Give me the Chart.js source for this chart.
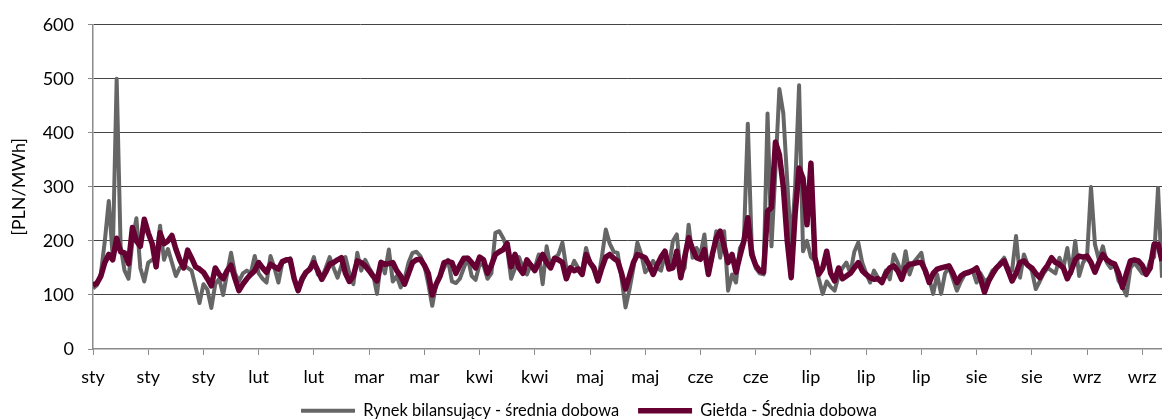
<!DOCTYPE html>
<html>
<head>
<meta charset="utf-8">
<script src="https://cdn.jsdelivr.net/npm/chart.js@4.4.0/dist/chart.umd.min.js"></script>
<style>
  html, body { margin: 0; padding: 0; background: #fff; }
</style>
</head>
<body>
<canvas id="chart" width="1162" height="419"></canvas>
<script>
// one tick every 14 days, starting on 1 Jan
const tickLabels = ['sty', 'sty', 'sty', 'lut', 'lut', 'mar', 'mar', 'kwi', 'kwi', 'maj',
  'maj', 'cze', 'cze', 'lip', 'lip', 'lip', 'sie', 'sie', 'wrz', 'wrz'];

// Rynek bilansujący - średnia dobowa (daily, PLN/MWh)
const rynek = [
  112, 118, 140, 200, 274, 170, 500, 190, 145, 130, 200, 242, 150, 125, 160, 165, 170, 228, 165, 185, 160, 135, 150, 155,
  150, 145, 115, 85, 120, 110, 76, 120, 130, 100, 140, 178, 140, 125, 140, 145, 140, 172, 140, 130, 123, 172, 150, 123, 160,
  163, 168, 130, 108, 125, 140, 150, 170, 138, 132, 150, 170, 150, 132, 155, 170, 140, 120, 178, 145, 165, 150, 138, 102, 162,
  140, 184, 125, 135, 114, 130, 160, 178, 180, 172, 155, 120, 80, 120, 135, 150, 165, 125, 122, 130, 150, 169, 135, 128, 157,
  155, 130, 140, 215, 218, 205, 185, 130, 150, 170, 150, 138, 157, 150, 175, 120, 190, 150, 168, 175, 197, 150, 145, 163, 150,
  145, 187, 160, 145, 126, 170, 221, 195, 180, 178, 130, 77, 110, 150, 197, 175, 142, 150, 163, 150, 145, 175, 150, 200, 212,
  138, 150, 230, 169, 187, 175, 212, 138, 170, 218, 169, 218, 108, 138, 123, 187, 200, 417, 187, 150, 140, 138, 436, 190, 330,
  481, 436, 310, 187, 300, 488, 181, 200, 170, 163, 130, 102, 125, 115, 108, 135, 150, 160, 140, 180, 197, 160, 140, 123, 145,
  132, 126, 145, 129, 175, 160, 138, 181, 138, 160, 169, 178, 140, 130, 102, 138, 102, 140, 151, 130, 108, 125, 138, 140, 145,
  123, 140, 126, 130, 145, 150, 160, 169, 150, 145, 209, 132, 175, 155, 145, 111, 125, 140, 150, 145, 140, 169, 150, 187, 140,
  200, 135, 160, 170, 300, 194, 165, 190, 160, 150, 157, 126, 115, 99, 150, 160, 150, 140, 138, 163, 170, 298, 132
];

// Giełda - Średnia dobowa (daily, PLN/MWh)
const gielda = [
  118, 122, 135, 160, 175, 165, 205, 180, 178, 158, 225, 200, 190, 240, 215, 195, 152, 215, 195, 200, 210, 185, 165, 150,
  183, 168, 152, 148, 142, 130, 117, 150, 138, 130, 145, 155, 130, 108, 120, 130, 138, 145, 160, 150, 142, 157, 152, 148, 162,
  165, 165, 130, 108, 130, 142, 148, 160, 145, 129, 142, 157, 160, 165, 169, 140, 125, 135, 163, 160, 154, 145, 135, 126, 160,
  157, 158, 160, 145, 135, 120, 140, 160, 165, 166, 155, 140, 100, 120, 135, 160, 162, 160, 140, 155, 168, 168, 160, 150, 170,
  165, 140, 155, 175, 180, 184, 195, 152, 175, 150, 140, 165, 155, 145, 160, 175, 160, 150, 168, 165, 160, 130, 150, 145, 148,
  138, 175, 160, 150, 126, 150, 170, 175, 168, 163, 140, 111, 135, 160, 175, 172, 169, 155, 138, 155, 170, 181, 148, 150, 181,
  132, 170, 206, 185, 169, 166, 184, 138, 175, 205, 218, 190, 160, 175, 142, 172, 200, 243, 175, 155, 145, 142, 255, 262, 383,
  360, 300, 200, 132, 250, 335, 316, 230, 344, 170, 138, 150, 181, 140, 126, 150, 130, 135, 140, 150, 160, 145, 138, 132, 129,
  130, 123, 140, 150, 154, 145, 129, 150, 157, 158, 160, 160, 145, 123, 140, 148, 150, 152, 154, 140, 123, 135, 140, 142, 145,
  150, 130, 105, 125, 138, 150, 157, 163, 145, 126, 140, 160, 163, 155, 150, 140, 132, 145, 155, 169, 160, 157, 150, 130, 145,
  165, 172, 170, 172, 160, 142, 160, 175, 165, 160, 157, 140, 114, 140, 163, 165, 163, 155, 138, 150, 194, 194, 163
];

const toPoints = arr => arr.map((v, i) => ({ x: i, y: v }));

// legend a bit to the right like the original, and don't clip the month labels
const tweaks = {
  id: 'tweaks',
  afterLayout(chart) {
    chart.scales.x.bottom = chart.height;
  },
  afterUpdate(chart) {
    chart.legend.left += 16;
  }
};

Chart.defaults.font.family = 'Lato';
Chart.defaults.color = '#000';

const ctx = document.getElementById('chart').getContext('2d');
new Chart(ctx, {
  type: 'line',
  data: {
    datasets: [
      {
        label: 'Giełda - Średnia dobowa',
        data: toPoints(gielda),
        borderColor: '#660033',
        backgroundColor: '#660033',
        borderWidth: 5.5,
        pointRadius: 0,
        tension: 0,
        borderJoinStyle: 'round'
      },
      {
        label: 'Rynek bilansujący - średnia dobowa',
        data: toPoints(rynek),
        borderColor: '#666666',
        backgroundColor: '#666666',
        borderWidth: 4,
        pointRadius: 0,
        tension: 0,
        borderJoinStyle: 'round'
      }
    ]
  },
  options: {
    responsive: false,
    animation: false,
    devicePixelRatio: 1,
    layout: { padding: { top: 22, left: 0, right: 0, bottom: -10 } },
    plugins: {
      tooltip: { enabled: false },
      legend: {
        position: 'bottom',
        labels: {
          usePointStyle: true,
          pointStyle: 'line',
          pointStyleWidth: 54,
          padding: 19,
          font: { size: 16.4 },
          color: '#000',
          sort: (a, b) => b.datasetIndex - a.datasetIndex
        }
      }
    },
    scales: {
      x: {
        type: 'linear',
        min: 0,
        max: 271,
        afterFit: s => { s.height = 34.6; s.paddingLeft = 0; s.paddingRight = 0; },
        afterBuildTicks: s => { s.ticks = tickLabels.map((_, i) => ({ value: i * 14 })); },
        border: { display: true, color: '#8a8a8a', width: 1.5 },
        grid: { drawOnChartArea: false, drawTicks: true, tickLength: 6, tickColor: '#8a8a8a' },
        ticks: {
          autoSkip: false,
          maxRotation: 0,
          padding: 11,
          font: { size: 18 },
          callback: v => tickLabels[v / 14]
        }
      },
      y: {
        min: 0,
        max: 600,
        afterFit: s => { s.width = 93; },
        border: { display: true, color: '#8a8a8a', width: 1.5 },
        grid: {
          color: c => (c.tick.value === 0 ? 'rgba(0,0,0,0)' : '#444'),
          borderDash: [2, 2],
          lineWidth: 1,
          tickLength: 5,
          tickColor: '#8a8a8a',
          tickBorderDash: []
        },
        ticks: { stepSize: 100, padding: 14, font: { size: 18 } },
        title: {
          display: true,
          text: '[PLN/MWh]',
          font: { size: 18 },
          padding: { top: 8, bottom: 0 }
        }
      }
    }
  },
  plugins: [tweaks]
});
</script>
</body>
</html>
